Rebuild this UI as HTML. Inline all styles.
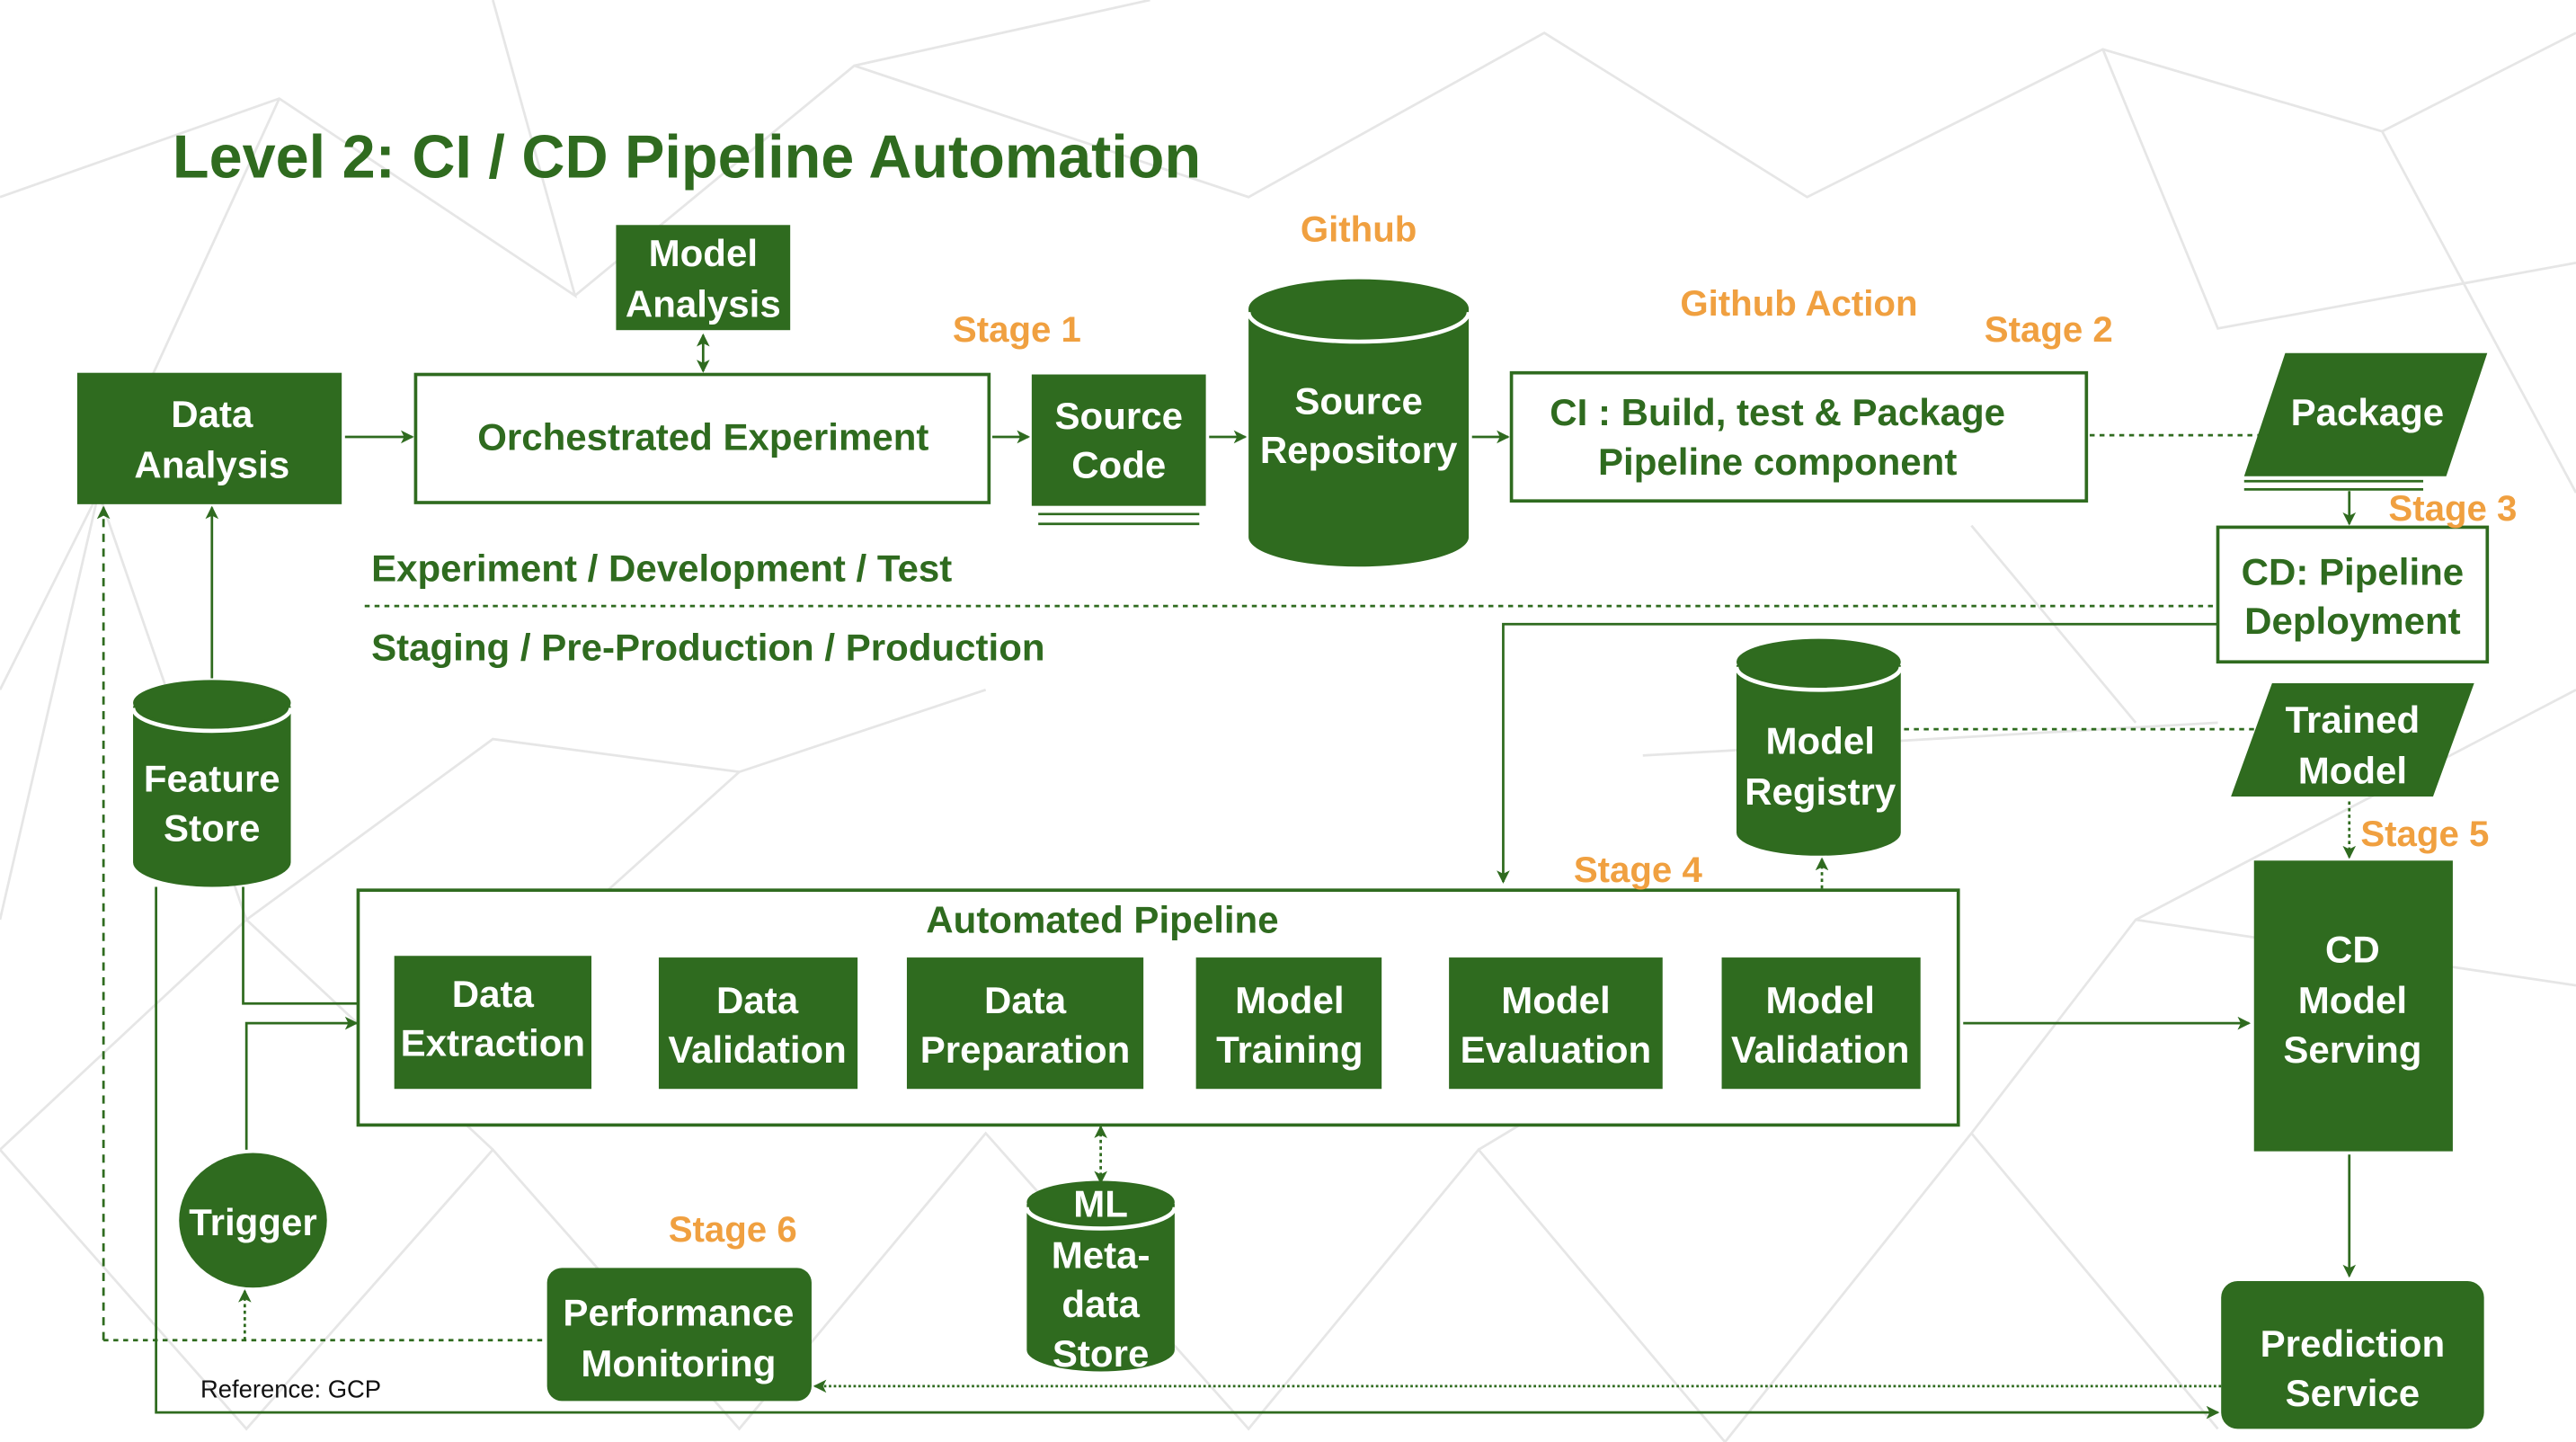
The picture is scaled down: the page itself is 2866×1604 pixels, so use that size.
<!DOCTYPE html>
<html><head><meta charset="utf-8"><style>
html,body{margin:0;padding:0;background:#fff;}
svg{display:block;}
text{font-family:"Liberation Sans",sans-serif;font-weight:bold;}
</style></head><body>
<svg width="2866" height="1604" viewBox="0 0 1568 878" preserveAspectRatio="none" xmlns="http://www.w3.org/2000/svg">
<defs>
<marker id="a" markerWidth="8" markerHeight="8" refX="7" refY="4" orient="auto" markerUnits="userSpaceOnUse"><path d="M0,0 L8,4 L0,8 L2,4 z" fill="#2f6b1f"/></marker>
<marker id="as" markerWidth="8" markerHeight="8" refX="1" refY="4" orient="auto" markerUnits="userSpaceOnUse"><path d="M8,0 L0,4 L8,8 L6,4 z" fill="#2f6b1f"/></marker>
</defs>
<rect width="1568" height="878" fill="#fff"/>
<g stroke="#e6e6e6" stroke-width="1.5" fill="none">
<path d="M0,120 L170,60 L350,180 L300,0 M170,60 L60,300 L0,420 M350,180 L520,40 L700,0 M520,40 L760,120 L940,20 L1100,120 L1280,30 L1450,80 L1568,20 M1280,30 L1350,200 L1568,160 M60,300 L0,560 M60,300 L150,560 L0,700 M150,560 L300,450 L450,470 L600,420 M450,470 L350,560 M0,700 L150,870 L300,700 L450,870 L600,690 L760,870 L900,700 L1050,878 L1200,690 L1350,870 M300,700 L150,560 M900,700 L1000,640 M1200,690 L1300,560 L1568,600 M1300,560 L1568,420 M1450,80 L1568,300 M1000,460 L1350,440 M1200,320 L1300,440"/>
</g>
<text x="105" y="108" font-size="37" fill="#2f6b1f" textLength="626" lengthAdjust="spacingAndGlyphs">Level 2: CI / CD Pipeline Automation</text>
<g stroke="#2f6b1f" stroke-width="1.5" fill="none">
<line x1="428" y1="204" x2="428" y2="226" marker-end="url(#a)" marker-start="url(#as)"/>
<line x1="210" y1="266" x2="251" y2="266" marker-end="url(#a)"/>
<line x1="604" y1="266" x2="626" y2="266" marker-end="url(#a)"/>
<line x1="736" y1="266" x2="758" y2="266" marker-end="url(#a)"/>
<line x1="896" y1="266" x2="918" y2="266" marker-end="url(#a)"/>
<line x1="1272" y1="265" x2="1376" y2="265" stroke-dasharray="3,3"/>
<line x1="632" y1="313" x2="730" y2="313"/>
<line x1="632" y1="319" x2="730" y2="319"/>
<line x1="1366" y1="293" x2="1475" y2="293"/>
<line x1="1366" y1="298" x2="1475" y2="298"/>
<line x1="1430" y1="299" x2="1430" y2="319" marker-end="url(#a)"/>
<line x1="222" y1="369" x2="1350" y2="369" stroke-dasharray="3,3"/>
<polyline points="1350,380 915,380 915,537" marker-end="url(#a)"/>
<line x1="1159" y1="444" x2="1376" y2="444" stroke-dasharray="3,3"/>
<line x1="1430" y1="488" x2="1430" y2="522" stroke-dasharray="2,2" marker-end="url(#a)"/>
<line x1="1430" y1="703" x2="1430" y2="777" marker-end="url(#a)"/>
<line x1="1109" y1="581" x2="1109" y2="523" stroke-dasharray="2,2" marker-end="url(#a)"/>
<line x1="1195" y1="623" x2="1369" y2="623" marker-end="url(#a)"/>
<line x1="361" y1="623" x2="399" y2="623" marker-end="url(#a)"/>
<line x1="523" y1="623" x2="550" y2="623" marker-end="url(#a)"/>
<line x1="697" y1="623" x2="726" y2="623" marker-end="url(#a)"/>
<line x1="842" y1="623" x2="880" y2="623" marker-end="url(#a)"/>
<line x1="1013" y1="623" x2="1046" y2="623" marker-end="url(#a)"/>
<line x1="129" y1="413" x2="129" y2="309" marker-end="url(#a)"/>
<line x1="63" y1="816" x2="63" y2="309" stroke-dasharray="5,4" marker-end="url(#a)"/>
<polyline points="148,540 148,611 239,611" marker-end="url(#a)"/>
<polyline points="150,700 150,623 217,623" marker-end="url(#a)"/>
<line x1="149" y1="816" x2="149" y2="786" stroke-dasharray="2,2" marker-end="url(#a)"/>
<line x1="63" y1="816" x2="332" y2="816" stroke-dasharray="3,3"/>
<line x1="670" y1="686" x2="670" y2="720" stroke-dasharray="2,2" marker-end="url(#a)" marker-start="url(#as)"/>
<line x1="1352" y1="844" x2="496" y2="844" stroke-dasharray="1.5,1.5" marker-end="url(#a)"/>
<polyline points="95,540 95,860 1350,860" marker-end="url(#a)"/>
<rect x="253" y="228" width="349" height="78" fill="#fff" stroke-width="2"/>
<rect x="920" y="227" width="350" height="78" fill="#fff" stroke-width="2"/>
<rect x="1350" y="321" width="164" height="82" fill="#fff" stroke-width="2"/>
<rect x="218" y="542" width="974" height="143" fill="#fff" stroke-width="2"/>
</g>
<g fill="#2f6b1f">
<rect x="375" y="137" width="106" height="64"/>
<rect x="47" y="227" width="161" height="80"/>
<rect x="628" y="228" width="106" height="80"/>
<polygon points="1391,215 1514,215 1489,290 1366,290"/>
<polygon points="1383,416 1506,416 1481,485 1358,485"/>
<rect x="1372" y="524" width="121" height="177"/>
<rect x="1352" y="780" width="160" height="90" rx="10"/>
<rect x="333" y="772" width="161" height="81" rx="9"/>
<rect x="240" y="582" width="120" height="81"/>
<rect x="401" y="583" width="121" height="80"/>
<rect x="552" y="583" width="144" height="80"/>
<rect x="728" y="583" width="113" height="80"/>
<rect x="882" y="583" width="130" height="80"/>
<rect x="1048" y="583" width="121" height="80"/>
<ellipse cx="154" cy="743" rx="45" ry="41"/>
<path d="M760,188 L760,327 A67,18 0 0 0 894,327 L894,188 Z"/><ellipse cx="827" cy="188" rx="67" ry="18"/><path d="M760,190 A67,18 0 0 0 894,190" stroke="#fff" stroke-width="2.5" fill="none"/>
<path d="M1057,405 L1057,507 A50,14 0 0 0 1157,507 L1157,405 Z"/><ellipse cx="1107" cy="403" rx="50" ry="14"/><path d="M1057,406 A50,14 0 0 0 1157,406" stroke="#fff" stroke-width="2.5" fill="none"/>
<path d="M81,430 L81,525 A48,15 0 0 0 177,525 L177,430 Z"/><ellipse cx="129" cy="428" rx="48" ry="14"/><path d="M81,431 A48,14 0 0 0 177,431" stroke="#fff" stroke-width="2.5" fill="none"/>
<path d="M625,733 L625,822 A45,13 0 0 0 715,822 L715,733 Z"/><ellipse cx="670" cy="732" rx="45" ry="13"/><path d="M625,735 A45,13 0 0 0 715,735" stroke="#fff" stroke-width="2.5" fill="none"/>
</g>
<g fill="#fff" font-size="23" text-anchor="middle">
<text x="428" y="162">Model</text><text x="428" y="193">Analysis</text>
<text x="129" y="260">Data</text><text x="129" y="291">Analysis</text>
<text x="681" y="261">Source</text><text x="681" y="291">Code</text>
<text x="827" y="252">Source</text><text x="827" y="282">Repository</text>
<text x="1441" y="259">Package</text>
<text x="1432" y="446">Trained</text><text x="1432" y="477">Model</text>
<text x="1108" y="459">Model</text><text x="1108" y="490">Registry</text>
<text x="129" y="482">Feature</text><text x="129" y="512">Store</text>
<text x="1432" y="586">CD</text><text x="1432" y="617">Model</text><text x="1432" y="647">Serving</text>
<text x="1432" y="826">Prediction</text><text x="1432" y="856">Service</text>
<text x="413" y="807">Performance</text><text x="413" y="838">Monitoring</text>
<text x="154" y="752">Trigger</text>
<text x="300" y="613">Data</text><text x="300" y="643">Extraction</text>
<text x="461" y="617">Data</text><text x="461" y="647">Validation</text>
<text x="624" y="617">Data</text><text x="624" y="647">Preparation</text>
<text x="785" y="617">Model</text><text x="785" y="647">Training</text>
<text x="947" y="617">Model</text><text x="947" y="647">Evaluation</text>
<text x="1108" y="617">Model</text><text x="1108" y="647">Validation</text>
<text x="670" y="741">ML</text><text x="670" y="772">Meta-</text><text x="670" y="802">data</text><text x="670" y="832">Store</text>
</g>
<g fill="#2f6b1f" font-size="23">
<text x="428" y="274" text-anchor="middle">Orchestrated Experiment</text>
<text x="1082" y="259" text-anchor="middle">CI : Build, test &amp; Package</text>
<text x="1082" y="289" text-anchor="middle">Pipeline component</text>
<text x="1432" y="356" text-anchor="middle">CD: Pipeline</text>
<text x="1432" y="386" text-anchor="middle">Deployment</text>
<text x="226" y="354">Experiment / Development / Test</text>
<text x="226" y="402">Staging / Pre-Production / Production</text>
<text x="671" y="568" text-anchor="middle">Automated Pipeline</text>
</g>
<g fill="#f0a040" font-size="22" text-anchor="middle">
<text x="827" y="147">Github</text>
<text x="619" y="208">Stage 1</text>
<text x="1095" y="192">Github Action</text>
<text x="1247" y="208">Stage 2</text>
<text x="1493" y="317">Stage 3</text>
<text x="997" y="537">Stage 4</text>
<text x="1476" y="515">Stage 5</text>
<text x="446" y="756">Stage 6</text>
</g>
<text x="122" y="851" font-size="15" fill="#111" style="font-weight:normal">Reference: GCP</text>
</svg>
</body></html>
